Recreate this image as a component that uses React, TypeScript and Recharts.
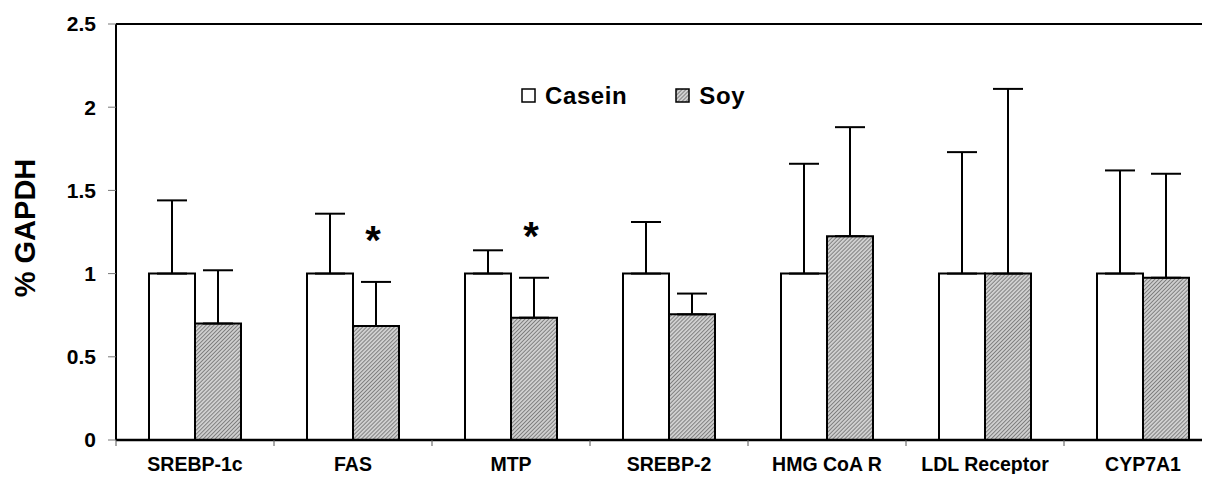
import React from 'react';
import {
  BarChart,
  Bar,
  XAxis,
  YAxis,
  ErrorBar,
  LabelList,
  ReferenceLine,
} from 'recharts';

// values
const genes = ['SREBP-1c', 'FAS', 'MTP', 'SREBP-2', 'HMG CoA R', 'LDL Receptor', 'CYP7A1'];
const casein = [1, 1, 1, 1, 1, 1, 1];
const caseinErr = [0.44, 0.36, 0.14, 0.31, 0.66, 0.73, 0.62];
const soy = [0.7, 0.685, 0.735, 0.755, 1.225, 1.0, 0.975];
const soyErr = [0.32, 0.265, 0.24, 0.125, 0.655, 1.11, 0.625];
const soySignificant = [false, true, true, false, false, false, false];
const yTicks = [0, 0.5, 1, 1.5, 2, 2.5];

const data = genes.map((gene, i) => ({
  gene,
  casein: casein[i],
  caseinErr: [0, caseinErr[i]],
  soy: soy[i],
  soyErr: [0, soyErr[i]],
  sig: soySignificant[i],
}));

const FONT = 'Liberation Sans, Arial, sans-serif';
const BAND = 158;

const GeneTick = ({ x, y, payload }: any) => (
  <g>
    <line x1={x - BAND / 2} y1={y - 8} x2={x - BAND / 2} y2={y - 2} stroke="#555" strokeWidth={1} />
    <text
      x={x}
      y={y + 23}
      textAnchor="middle"
      fontFamily={FONT}
      fontWeight="bold"
      fontSize={19.5}
      fill="#000"
    >
      {payload.value}
    </text>
  </g>
);

const YTitle = ({ viewBox }: any) => {
  const cx = viewBox.x + 25;
  const cy = viewBox.y + viewBox.height / 2 - 4;
  return (
    <text
      transform={`translate(${cx},${cy}) rotate(-90)`}
      textAnchor="middle"
      dominantBaseline="central"
      fontFamily={FONT}
      fontWeight="bold"
      fontSize={29}
      fill="#000"
    >
      % GAPDH
    </text>
  );
};

const Asterisk = (props: any) => {
  const { x, y, width, height, index } = props;
  if (!data[index].sig) return null;
  const pxPerUnit = height / data[index].soy;
  const errTop = y - soyErr[index] * pxPerUnit;
  return (
    <text
      x={x + width / 2 - 3}
      y={errTop - 28}
      textAnchor="middle"
      fontFamily={FONT}
      fontWeight="bold"
      fontSize={40}
      fill="#000"
    >
      *
    </text>
  );
};

const LegendBox = () => (
  <div
    style={{
      position: 'absolute',
      left: 521,
      top: 82,
      display: 'flex',
      alignItems: 'center',
      fontFamily: FONT,
      fontWeight: 'bold',
      fontSize: 24,
      letterSpacing: 0.6,
      color: '#000',
      lineHeight: '28px',
    }}
  >
    <svg width={16} height={16} style={{ marginRight: 8 }}>
      <rect x={1} y={1} width={13} height={13} fill="#fff" stroke="#000" strokeWidth={1.5} />
    </svg>
    <span style={{ marginRight: 48 }}>Casein</span>
    <svg width={16} height={16} style={{ marginRight: 8 }}>
      <rect x={1} y={1} width={13} height={13} fill="url(#hatch)" stroke="#000" strokeWidth={1.5} />
    </svg>
    <span>Soy</span>
  </div>
);

export default function App() {
  return (
    <div
      style={{
        position: 'relative',
        margin: -8,
        width: 1210,
        height: 482,
        overflow: 'hidden',
        background: '#fff',
      }}
    >
      <BarChart
        width={1230}
        height={482}
        data={data}
        margin={{ top: 24, right: 8, left: 0, bottom: 0 }}
        barCategoryGap={33}
        barGap={0}
      >
        <defs>
          <pattern id="hatch" width={2.8} height={2.8} patternUnits="userSpaceOnUse" patternTransform="rotate(45)">
            <rect width={2.8} height={2.8} fill="#cfcfcf" />
            <line x1={0} y1={0} x2={0} y2={2.8} stroke="#5a5a5a" strokeWidth={1.3} />
          </pattern>
        </defs>
        <ReferenceLine y={2.5} stroke="#000" strokeWidth={2} />
        <XAxis
          dataKey="gene"
          height={42}
          axisLine={{ stroke: '#000', strokeWidth: 2.5 }}
          tickLine={false}
          tick={<GeneTick />}
          interval={0}
        />
        <YAxis
          width={116}
          domain={[0, 2.5]}
          ticks={yTicks}
          tickSize={8}
          tickMargin={12}
          axisLine={{ stroke: '#000', strokeWidth: 2 }}
          tickLine={{ stroke: '#777', strokeWidth: 1 }}
          tick={{ fontFamily: FONT, fontWeight: 'bold', fontSize: 21, fill: '#000' }}
          label={<YTitle />}
        />
        <Bar dataKey="casein" fill="#fff" stroke="#000" strokeWidth={2} isAnimationActive={false}>
          <ErrorBar dataKey="caseinErr" width={15} stroke="#000" strokeWidth={2} direction="y" />
        </Bar>
        <Bar dataKey="soy" fill="url(#hatch)" stroke="#000" strokeWidth={2} isAnimationActive={false}>
          <ErrorBar dataKey="soyErr" width={15} stroke="#000" strokeWidth={2} direction="y" />
          <LabelList dataKey="soy" content={<Asterisk />} />
        </Bar>
      </BarChart>
      <LegendBox />
    </div>
  );
}
